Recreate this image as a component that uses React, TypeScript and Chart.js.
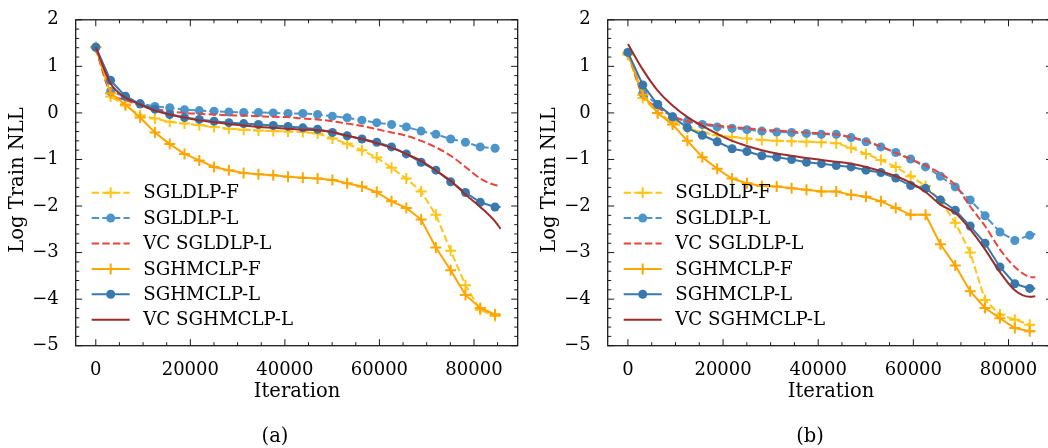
import React, { useEffect, useRef } from "react";
import { Chart, registerables } from "chart.js";

Chart.register(...registerables);

// ---------- DATA ----------
const ITER = [
  0, 3128, 6256, 9384, 12512, 15640, 18768, 21896, 25024, 28152, 31280, 34408,
  37536, 40664, 43792, 46920, 50048, 53176, 56304, 59432, 62560, 65688, 68816,
  71944, 75072, 78200, 81328, 84456, 85629,
];

const LABELS = [
  "SGLDLP-F",
  "SGLDLP-L",
  "VC SGLDLP-L",
  "SGHMCLP-F",
  "SGHMCLP-L",
  "VC SGHMCLP-L",
];

// Panel (a)
const A_SGLDLP_F = [1.41, 0.35, 0.16, -0.05, -0.12, -0.19, -0.23, -0.26, -0.3, -0.34, -0.36, -0.38, -0.39, -0.4, -0.41, -0.44, -0.55, -0.66, -0.8, -0.96, -1.18, -1.41, -1.69, -2.19, -2.96, -3.7, -4.23, -4.36, -4.33];
const A_SGLDLP_L = [1.41, 0.46, 0.35, 0.2, 0.14, 0.11, 0.07, 0.05, 0.035, 0.02, 0.01, 0.01, 0.0, -0.01, -0.01, -0.035, -0.07, -0.105, -0.155, -0.21, -0.25, -0.3, -0.39, -0.46, -0.56, -0.63, -0.73, -0.76, -0.76];
const A_VC_SGLDLP_L = [1.38, 0.44, 0.28, 0.16, 0.09, 0.035, 0.0, -0.02, -0.035, -0.05, -0.056, -0.07, -0.085, -0.09, -0.12, -0.14, -0.18, -0.23, -0.28, -0.35, -0.42, -0.49, -0.6, -0.74, -0.92, -1.16, -1.41, -1.55, -1.57];
const A_SGHMCLP_F = [1.41, 0.42, 0.18, -0.1, -0.42, -0.67, -0.88, -1.02, -1.16, -1.23, -1.29, -1.32, -1.34, -1.37, -1.39, -1.41, -1.44, -1.51, -1.58, -1.7, -1.9, -2.04, -2.29, -2.89, -3.38, -3.91, -4.19, -4.33, -4.33];
const A_SGHMCLP_L = [1.41, 0.7, 0.36, 0.19, 0.08, -0.035, -0.1, -0.14, -0.18, -0.21, -0.23, -0.25, -0.27, -0.29, -0.32, -0.35, -0.42, -0.49, -0.56, -0.63, -0.73, -0.88, -1.06, -1.23, -1.48, -1.71, -1.92, -2.02, -2.02];
const A_VC_SGHMCLP_L = [1.41, 0.63, 0.33, 0.18, 0.05, -0.035, -0.1, -0.16, -0.2, -0.24, -0.27, -0.3, -0.32, -0.34, -0.36, -0.37, -0.41, -0.49, -0.56, -0.65, -0.75, -0.88, -1.03, -1.24, -1.46, -1.75, -2.02, -2.33, -2.49];

// Panel (b)
const B_SGLDLP_F = [1.25, 0.32, 0.0, -0.19, -0.33, -0.42, -0.48, -0.52, -0.55, -0.58, -0.6, -0.61, -0.62, -0.63, -0.65, -0.75, -0.88, -1.01, -1.16, -1.36, -1.57, -1.88, -2.36, -3.0, -4.02, -4.33, -4.44, -4.55, -4.56];
const B_SGLDLP_L = [1.3, 0.42, 0.18, -0.09, -0.18, -0.25, -0.3, -0.33, -0.36, -0.39, -0.41, -0.42, -0.44, -0.46, -0.46, -0.53, -0.62, -0.73, -0.85, -0.99, -1.16, -1.36, -1.59, -1.87, -2.21, -2.56, -2.74, -2.63, -2.6];
const B_VC_SGLDLP_L = [1.3, 0.39, 0.12, -0.07, -0.18, -0.23, -0.27, -0.3, -0.33, -0.36, -0.38, -0.4, -0.42, -0.44, -0.46, -0.52, -0.6, -0.72, -0.86, -0.99, -1.13, -1.3, -1.55, -2.01, -2.43, -2.93, -3.31, -3.52, -3.53];
const B_SGHMCLP_F = [1.28, 0.39, 0.0, -0.25, -0.6, -0.95, -1.2, -1.41, -1.51, -1.57, -1.58, -1.62, -1.65, -1.69, -1.69, -1.76, -1.8, -1.9, -2.04, -2.19, -2.19, -2.82, -3.28, -3.83, -4.19, -4.41, -4.62, -4.69, -4.69];
const B_SGHMCLP_L = [1.3, 0.6, 0.18, -0.08, -0.32, -0.48, -0.62, -0.77, -0.83, -0.92, -0.95, -1.0, -1.06, -1.09, -1.13, -1.16, -1.23, -1.28, -1.4, -1.56, -1.62, -1.87, -2.09, -2.43, -2.8, -3.31, -3.67, -3.77, -3.77];
const B_VC_SGHMCLP_L = [1.48, 0.93, 0.48, 0.16, -0.09, -0.28, -0.45, -0.6, -0.71, -0.8, -0.87, -0.92, -0.97, -1.01, -1.05, -1.09, -1.16, -1.25, -1.36, -1.5, -1.7, -1.97, -2.15, -2.5, -2.93, -3.42, -3.81, -3.95, -3.94];

const X_TICKS = [0, 20000, 40000, 60000, 80000];
const Y_TICKS = [-5, -4, -3, -2, -1, 0, 1, 2];

// ---------- STYLES ----------
const FONT = "'DejaVu Serif', serif";
const STYLES = [
  { color: "#FFC414", dash: [7.4, 3.2], marker: "cross", smooth: false },
  { color: "#4C95CB", dash: [7.4, 3.2], marker: "circle", smooth: false },
  { color: "#E8453C", dash: [7.4, 3.2], marker: "", smooth: true },
  { color: "#FFA500", dash: [], marker: "cross", smooth: false },
  { color: "#3878AD", dash: [], marker: "circle", smooth: false },
  { color: "#9B2D2B", dash: [], marker: "", smooth: true },
];

const framePlugin = {
  id: "frameTicks",
  afterDatasetsDraw(chart: any) {
    const { ctx, chartArea: ca, scales } = chart;
    const xs = scales.x;
    const ys = scales.y;
    ctx.save();
    ctx.strokeStyle = "#1a1a1a";
    ctx.lineWidth = 1;
    for (let v = 0; v <= xs.max; v += 5000) {
      if (v < xs.min) continue;
      const px = xs.getPixelForValue(v);
      const len = v % 20000 === 0 ? 6.5 : 3.5;
      ctx.beginPath();
      ctx.moveTo(px, ca.bottom);
      ctx.lineTo(px, ca.bottom - len);
      ctx.moveTo(px, ca.top);
      ctx.lineTo(px, ca.top + len);
      ctx.stroke();
    }
    for (let k = -25; k <= 10; k++) {
      const v = k / 5;
      if (v < ys.min - 1e-9 || v > ys.max + 1e-9) continue;
      const py = ys.getPixelForValue(v);
      const len = k % 5 === 0 ? 6.5 : 3.5;
      ctx.beginPath();
      ctx.moveTo(ca.left, py);
      ctx.lineTo(ca.left + len, py);
      ctx.moveTo(ca.right, py);
      ctx.lineTo(ca.right - len, py);
      ctx.stroke();
    }
    ctx.lineWidth = 1.3;
    ctx.strokeRect(ca.left, ca.top, ca.right - ca.left, ca.bottom - ca.top);
    ctx.restore();
  },
};

const legendPlugin = {
  id: "customLegend",
  afterDraw(chart: any) {
    const { ctx, chartArea: ca } = chart;
    const ds = chart.data.datasets;
    ctx.save();
    ctx.font = `18.2px ${FONT}`;
    ctx.textBaseline = "middle";
    ctx.fillStyle = "#000";
    const x0 = ca.left + 16;
    const x1 = ca.left + 54;
    const tx = ca.left + 67.5;
    const rowH = 25.4;
    const yStart = ca.bottom - 153;
    ds.forEach((d: any, i: number) => {
      const st = STYLES[i];
      const y = yStart + i * rowH;
      ctx.strokeStyle = st.color;
      ctx.lineWidth = 2;
      ctx.setLineDash(st.dash);
      ctx.beginPath();
      ctx.moveTo(x0, y);
      ctx.lineTo(x1, y);
      ctx.stroke();
      ctx.setLineDash([]);
      const cx = (x0 + x1) / 2;
      if (st.marker === "circle") {
        ctx.fillStyle = st.color;
        ctx.beginPath();
        ctx.arc(cx, y, 4.5, 0, Math.PI * 2);
        ctx.fill();
      } else if (st.marker === "cross") {
        ctx.beginPath();
        ctx.moveTo(cx - 5.5, y);
        ctx.lineTo(cx + 5.5, y);
        ctx.moveTo(cx, y - 5.5);
        ctx.lineTo(cx, y + 5.5);
        ctx.stroke();
      }
      ctx.fillStyle = "#000";
      ctx.fillText(d.label, tx, y + 1);
    });
    ctx.restore();
  },
};

const fmtY = (v: number) => (v < 0 ? "\u2212" + Math.abs(v) : String(v));

function makeDatasets(series: number[][]) {
  return series.map((vals, i) => {
    const st = STYLES[i];
    const n = ITER.length;
    return {
      label: LABELS[i],
      data: ITER.map((x, j) => ({ x, y: vals[j] })),
      borderColor: st.color,
      backgroundColor: st.color,
      borderWidth: 2,
      borderDash: st.dash,
      pointStyle: st.marker === "circle" ? "circle" : "cross",
      pointRadius: ITER.map((_, j) =>
        !st.marker || j === n - 1 ? 0 : st.marker === "circle" ? 4.5 : 5.5
      ),
      pointBorderWidth: st.marker === "cross" ? 2 : 0,
      pointBackgroundColor: st.color,
      pointBorderColor: st.color,
      pointHoverRadius: 0,
      tension: st.smooth ? 0.4 : 0,
      cubicInterpolationMode: st.smooth ? "monotone" : "default",
      order: 10 - i,
      clip: false,
    };
  });
}

function Panel(props: {
  series: number[][];
  left: number;
  width: number;
  areaLeft: number;
  rightPad: number;
}) {
  const ref = useRef<HTMLCanvasElement | null>(null);
  useEffect(() => {
    if (!ref.current) return;
    const chart = new Chart(ref.current, {
      type: "line",
      data: { datasets: makeDatasets(props.series) as any },
      options: {
        animation: false,
        responsive: false,
        devicePixelRatio: 1,
        events: [],
        layout: { padding: { left: 0, top: 13.3, right: props.rightPad, bottom: 0 } },
        plugins: { legend: { display: false }, tooltip: { enabled: false } },
        scales: {
          x: {
            type: "linear",
            min: -4250,
            max: 89250,
            grid: { display: false },
            border: { display: false },
            afterBuildTicks: (s: any) => {
              s.ticks = X_TICKS.map((v) => ({ value: v }));
            },
            ticks: {
              padding: 6,
              color: "#000",
              font: { family: FONT, size: 18 },
              maxRotation: 0,
              autoSkip: false,
              callback: (v: any) => String(v),
            },
            afterFit: (s: any) => {
              s.height = 448 - 345.7;
            },
          },
          y: {
            type: "linear",
            min: -5,
            max: 2,
            grid: { display: false },
            border: { display: false },
            afterBuildTicks: (s: any) => {
              s.ticks = Y_TICKS.map((v) => ({ value: v }));
            },
            ticks: {
              padding: 9,
              color: "#000",
              font: { family: FONT, size: 18 },
              callback: (v: any) => fmtY(Number(v)),
            },
            afterFit: (s: any) => {
              s.width = props.areaLeft;
            },
          },
        },
      },
      plugins: [framePlugin, legendPlugin],
    });
    return () => chart.destroy();
  }, []);
  return (
    <canvas
      ref={ref}
      width={props.width}
      height={448}
      style={{ position: "absolute", left: props.left, top: 0, width: props.width, height: 448 }}
    />
  );
}

function Text(props: { cx: number; cy: number; text: string; rotate?: boolean; size?: number }) {
  return (
    <div
      style={{
        position: "absolute",
        left: props.cx - 150,
        top: props.cy - 12,
        width: 300,
        height: 24,
        lineHeight: "24px",
        textAlign: "center",
        fontFamily: FONT,
        fontSize: props.size || 19.5,
        color: "#000",
        whiteSpace: "nowrap",
        transform: props.rotate ? "rotate(-90deg)" : undefined,
        transformOrigin: "50% 50%",
      }}
    >
      {props.text}
    </div>
  );
}

export default function App() {
  const seriesA = [A_SGLDLP_F, A_SGLDLP_L, A_VC_SGLDLP_L, A_SGHMCLP_F, A_SGHMCLP_L, A_VC_SGHMCLP_L];
  const seriesB = [B_SGLDLP_F, B_SGLDLP_L, B_VC_SGLDLP_L, B_SGHMCLP_F, B_SGHMCLP_L, B_VC_SGHMCLP_L];
  return (
    <div
      style={{
        position: "fixed",
        left: 0,
        top: 0,
        width: 1048,
        height: 448,
        overflow: "hidden",
        background: "#fff",
      }}
    >
      <Panel series={seriesA} left={0} width={530} areaLeft={75.7} rightPad={530 - 517.7} />
      <Panel series={seriesB} left={530} width={530} areaLeft={77.7} rightPad={5} />
      <Text cx={17} cy={179.5} text="Log Train NLL" rotate />
      <Text cx={549} cy={179.5} text="Log Train NLL" rotate />
      <Text cx={297} cy={391} text="Iteration" />
      <Text cx={831} cy={391} text="Iteration" />
      <Text cx={275} cy={436} text="(a)" />
      <Text cx={810} cy={436} text="(b)" />
    </div>
  );
}
